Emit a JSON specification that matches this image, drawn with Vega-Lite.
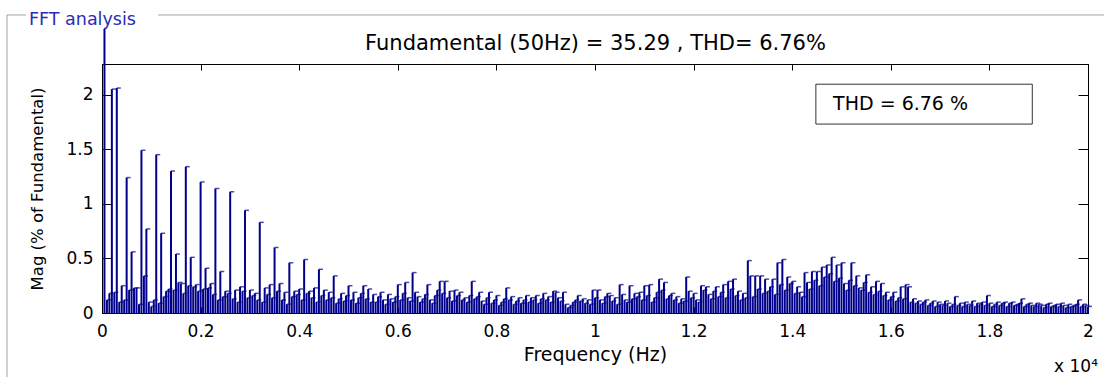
{
  "$schema": "https://vega.github.io/schema/vega-lite/v6.json",
  "width": 986,
  "height": 249,
  "autosize": {"type": "none"},
  "padding": {"left": 102, "top": 64, "right": 16, "bottom": 64},
  "background": "white",
  "title": {"text": "FFT analysis", "anchor": "start", "frame": "group", "dx": -73, "dy": 18, "fontSize": 17.5, "font": "DejaVu Sans", "fontWeight": "normal", "color": "#2b2bb5", "offset": 4},
  "config": {
    "font": "DejaVu Sans",
    "view": {"stroke": "black", "strokeWidth": 1},
    "axis": {"grid": false, "domainColor": "black", "tickColor": "black", "labelColor": "black", "titleColor": "black", "titleFontWeight": "normal", "labelFont": "DejaVu Sans", "titleFont": "DejaVu Sans"}
  },
  "datasets": {
    "spectrum": [
      {"f":50,"m":100},{"f":100,"m":0.12},{"f":150,"m":0.18},{"f":200,"m":2.05},{"f":250,"m":0.19},{"f":300,"m":2.06},{"f":350,"m":0.10},{"f":400,"m":0.25},{"f":450,"m":0.12},{"f":500,"m":1.24},
      {"f":550,"m":0.21},{"f":600,"m":0.56},{"f":650,"m":0.23},{"f":700,"m":0.23},{"f":750,"m":0.08},{"f":800,"m":1.49},{"f":850,"m":0.34},{"f":900,"m":0.77},{"f":950,"m":0.10},{"f":1000,"m":0.06},
      {"f":1050,"m":0.12},{"f":1100,"m":1.45},{"f":1150,"m":0.09},{"f":1200,"m":0.73},{"f":1250,"m":0.15},{"f":1300,"m":0.20},{"f":1350,"m":0.22},{"f":1400,"m":1.30},{"f":1450,"m":0.21},{"f":1500,"m":0.54},
      {"f":1550,"m":0.28},{"f":1600,"m":0.27},{"f":1650,"m":0.18},{"f":1700,"m":1.34},{"f":1750,"m":0.25},{"f":1800,"m":0.51},{"f":1850,"m":0.24},{"f":1900,"m":0.26},{"f":1950,"m":0.20},{"f":2000,"m":1.20},
      {"f":2050,"m":0.22},{"f":2100,"m":0.41},{"f":2150,"m":0.23},{"f":2200,"m":0.27},{"f":2250,"m":0.17},{"f":2300,"m":1.14},{"f":2350,"m":0.12},{"f":2400,"m":0.38},{"f":2450,"m":0.15},{"f":2500,"m":0.20},
      {"f":2550,"m":0.18},{"f":2600,"m":1.11},{"f":2650,"m":0.13},{"f":2700,"m":0.21},{"f":2750,"m":0.10},{"f":2800,"m":0.24},{"f":2850,"m":0.20},{"f":2900,"m":0.94},{"f":2950,"m":0.14},{"f":3000,"m":0.21},
      {"f":3050,"m":0.16},{"f":3100,"m":0.18},{"f":3150,"m":0.12},{"f":3200,"m":0.83},{"f":3250,"m":0.10},{"f":3300,"m":0.23},{"f":3350,"m":0.17},{"f":3400,"m":0.26},{"f":3450,"m":0.14},{"f":3500,"m":0.60},
      {"f":3550,"m":0.20},{"f":3600,"m":0.27},{"f":3650,"m":0.12},{"f":3700,"m":0.19},{"f":3750,"m":0.08},{"f":3800,"m":0.46},{"f":3850,"m":0.15},{"f":3900,"m":0.20},{"f":3950,"m":0.17},{"f":4000,"m":0.22},
      {"f":4050,"m":0.12},{"f":4100,"m":0.49},{"f":4150,"m":0.18},{"f":4200,"m":0.20},{"f":4250,"m":0.14},{"f":4300,"m":0.23},{"f":4350,"m":0.10},{"f":4400,"m":0.40},{"f":4450,"m":0.16},{"f":4500,"m":0.21},
      {"f":4550,"m":0.12},{"f":4600,"m":0.19},{"f":4650,"m":0.14},{"f":4700,"m":0.34},{"f":4750,"m":0.09},{"f":4800,"m":0.13},{"f":4850,"m":0.18},{"f":4900,"m":0.11},{"f":4950,"m":0.16},{"f":5000,"m":0.25},
      {"f":5050,"m":0.12},{"f":5100,"m":0.19},{"f":5150,"m":0.09},{"f":5200,"m":0.14},{"f":5250,"m":0.18},{"f":5300,"m":0.25},{"f":5350,"m":0.13},{"f":5400,"m":0.22},{"f":5450,"m":0.10},{"f":5500,"m":0.17},
      {"f":5550,"m":0.10},{"f":5600,"m":0.15},{"f":5650,"m":0.19},{"f":5700,"m":0.12},{"f":5750,"m":0.08},{"f":5800,"m":0.17},{"f":5850,"m":0.13},{"f":5900,"m":0.10},{"f":5950,"m":0.15},{"f":6000,"m":0.26},
      {"f":6050,"m":0.12},{"f":6100,"m":0.18},{"f":6150,"m":0.28},{"f":6200,"m":0.14},{"f":6250,"m":0.11},{"f":6300,"m":0.37},{"f":6350,"m":0.19},{"f":6400,"m":0.15},{"f":6450,"m":0.10},{"f":6500,"m":0.13},
      {"f":6550,"m":0.17},{"f":6600,"m":0.26},{"f":6650,"m":0.12},{"f":6700,"m":0.09},{"f":6750,"m":0.16},{"f":6800,"m":0.21},{"f":6850,"m":0.29},{"f":6900,"m":0.18},{"f":6950,"m":0.29},{"f":7000,"m":0.14},
      {"f":7050,"m":0.20},{"f":7100,"m":0.11},{"f":7150,"m":0.21},{"f":7200,"m":0.16},{"f":7250,"m":0.19},{"f":7300,"m":0.12},{"f":7350,"m":0.14},{"f":7400,"m":0.10},{"f":7450,"m":0.16},{"f":7500,"m":0.29},
      {"f":7550,"m":0.13},{"f":7600,"m":0.15},{"f":7650,"m":0.19},{"f":7700,"m":0.11},{"f":7750,"m":0.08},{"f":7800,"m":0.14},{"f":7850,"m":0.19},{"f":7900,"m":0.09},{"f":7950,"m":0.12},{"f":8000,"m":0.16},
      {"f":8050,"m":0.07},{"f":8100,"m":0.10},{"f":8150,"m":0.13},{"f":8200,"m":0.23},{"f":8250,"m":0.12},{"f":8300,"m":0.15},{"f":8350,"m":0.08},{"f":8400,"m":0.11},{"f":8450,"m":0.14},{"f":8500,"m":0.09},
      {"f":8550,"m":0.12},{"f":8600,"m":0.16},{"f":8650,"m":0.10},{"f":8700,"m":0.14},{"f":8750,"m":0.12},{"f":8800,"m":0.16},{"f":8850,"m":0.09},{"f":8900,"m":0.13},{"f":8950,"m":0.18},{"f":9000,"m":0.12},
      {"f":9050,"m":0.15},{"f":9100,"m":0.10},{"f":9150,"m":0.20},{"f":9200,"m":0.19},{"f":9250,"m":0.14},{"f":9300,"m":0.11},{"f":9350,"m":0.19},{"f":9400,"m":0.08},{"f":9450,"m":0.05},{"f":9500,"m":0.07},
      {"f":9550,"m":0.10},{"f":9600,"m":0.12},{"f":9650,"m":0.16},{"f":9700,"m":0.11},{"f":9750,"m":0.13},{"f":9800,"m":0.09},{"f":9850,"m":0.12},{"f":9900,"m":0.08},{"f":9950,"m":0.21},{"f":10000,"m":0.14},
      {"f":10050,"m":0.21},{"f":10100,"m":0.12},{"f":10150,"m":0.09},{"f":10200,"m":0.15},{"f":10250,"m":0.18},{"f":10300,"m":0.16},{"f":10350,"m":0.11},{"f":10400,"m":0.14},{"f":10450,"m":0.08},{"f":10500,"m":0.26},
      {"f":10550,"m":0.17},{"f":10600,"m":0.12},{"f":10650,"m":0.10},{"f":10700,"m":0.25},{"f":10750,"m":0.13},{"f":10800,"m":0.18},{"f":10850,"m":0.15},{"f":10900,"m":0.19},{"f":10950,"m":0.12},{"f":11000,"m":0.25},
      {"f":11050,"m":0.16},{"f":11100,"m":0.26},{"f":11150,"m":0.10},{"f":11200,"m":0.14},{"f":11250,"m":0.19},{"f":11300,"m":0.31},{"f":11350,"m":0.21},{"f":11400,"m":0.28},{"f":11450,"m":0.13},{"f":11500,"m":0.16},
      {"f":11550,"m":0.18},{"f":11600,"m":0.12},{"f":11650,"m":0.15},{"f":11700,"m":0.09},{"f":11750,"m":0.13},{"f":11800,"m":0.11},{"f":11850,"m":0.33},{"f":11900,"m":0.20},{"f":11950,"m":0.14},{"f":12000,"m":0.18},
      {"f":12050,"m":0.12},{"f":12100,"m":0.10},{"f":12150,"m":0.25},{"f":12200,"m":0.21},{"f":12250,"m":0.24},{"f":12300,"m":0.17},{"f":12350,"m":0.13},{"f":12400,"m":0.20},{"f":12450,"m":0.24},{"f":12500,"m":0.15},
      {"f":12550,"m":0.19},{"f":12600,"m":0.26},{"f":12650,"m":0.14},{"f":12700,"m":0.29},{"f":12750,"m":0.22},{"f":12800,"m":0.31},{"f":12850,"m":0.16},{"f":12900,"m":0.20},{"f":12950,"m":0.12},{"f":13000,"m":0.18},
      {"f":13050,"m":0.14},{"f":13100,"m":0.48},{"f":13150,"m":0.34},{"f":13200,"m":0.15},{"f":13250,"m":0.34},{"f":13300,"m":0.22},{"f":13350,"m":0.34},{"f":13400,"m":0.18},{"f":13450,"m":0.31},{"f":13500,"m":0.20},
      {"f":13550,"m":0.24},{"f":13600,"m":0.31},{"f":13650,"m":0.17},{"f":13700,"m":0.46},{"f":13750,"m":0.26},{"f":13800,"m":0.49},{"f":13850,"m":0.21},{"f":13900,"m":0.33},{"f":13950,"m":0.27},{"f":14000,"m":0.29},
      {"f":14050,"m":0.18},{"f":14100,"m":0.24},{"f":14150,"m":0.19},{"f":14200,"m":0.15},{"f":14250,"m":0.37},{"f":14300,"m":0.28},{"f":14350,"m":0.22},{"f":14400,"m":0.38},{"f":14450,"m":0.30},{"f":14500,"m":0.38},
      {"f":14550,"m":0.25},{"f":14600,"m":0.42},{"f":14650,"m":0.33},{"f":14700,"m":0.44},{"f":14750,"m":0.36},{"f":14800,"m":0.51},{"f":14850,"m":0.29},{"f":14900,"m":0.44},{"f":14950,"m":0.32},{"f":15000,"m":0.46},
      {"f":15050,"m":0.27},{"f":15100,"m":0.21},{"f":15150,"m":0.30},{"f":15200,"m":0.46},{"f":15250,"m":0.25},{"f":15300,"m":0.34},{"f":15350,"m":0.23},{"f":15400,"m":0.21},{"f":15450,"m":0.28},{"f":15500,"m":0.35},
      {"f":15550,"m":0.19},{"f":15600,"m":0.24},{"f":15650,"m":0.17},{"f":15700,"m":0.29},{"f":15750,"m":0.20},{"f":15800,"m":0.27},{"f":15850,"m":0.16},{"f":15900,"m":0.19},{"f":15950,"m":0.12},{"f":16000,"m":0.15},
      {"f":16050,"m":0.19},{"f":16100,"m":0.11},{"f":16150,"m":0.14},{"f":16200,"m":0.24},{"f":16250,"m":0.13},{"f":16300,"m":0.26},{"f":16350,"m":0.24},{"f":16400,"m":0.10},{"f":16450,"m":0.13},{"f":16500,"m":0.09},
      {"f":16550,"m":0.11},{"f":16600,"m":0.08},{"f":16650,"m":0.10},{"f":16700,"m":0.12},{"f":16750,"m":0.07},{"f":16800,"m":0.09},{"f":16850,"m":0.11},{"f":16900,"m":0.06},{"f":16950,"m":0.10},{"f":17000,"m":0.08},
      {"f":17050,"m":0.07},{"f":17100,"m":0.11},{"f":17150,"m":0.09},{"f":17200,"m":0.06},{"f":17250,"m":0.08},{"f":17300,"m":0.15},{"f":17350,"m":0.07},{"f":17400,"m":0.09},{"f":17450,"m":0.06},{"f":17500,"m":0.10},
      {"f":17550,"m":0.08},{"f":17600,"m":0.07},{"f":17650,"m":0.11},{"f":17700,"m":0.06},{"f":17750,"m":0.09},{"f":17800,"m":0.08},{"f":17850,"m":0.10},{"f":17900,"m":0.07},{"f":17950,"m":0.16},{"f":18000,"m":0.09},
      {"f":18050,"m":0.06},{"f":18100,"m":0.08},{"f":18150,"m":0.10},{"f":18200,"m":0.07},{"f":18250,"m":0.09},{"f":18300,"m":0.10},{"f":18350,"m":0.06},{"f":18400,"m":0.09},{"f":18450,"m":0.10},{"f":18500,"m":0.07},
      {"f":18550,"m":0.08},{"f":18600,"m":0.09},{"f":18650,"m":0.13},{"f":18700,"m":0.06},{"f":18750,"m":0.08},{"f":18800,"m":0.09},{"f":18850,"m":0.07},{"f":18900,"m":0.06},{"f":18950,"m":0.09},{"f":19000,"m":0.08},
      {"f":19050,"m":0.07},{"f":19100,"m":0.05},{"f":19150,"m":0.08},{"f":19200,"m":0.09},{"f":19250,"m":0.06},{"f":19300,"m":0.07},{"f":19350,"m":0.08},{"f":19400,"m":0.06},{"f":19450,"m":0.09},{"f":19500,"m":0.07},
      {"f":19550,"m":0.05},{"f":19600,"m":0.08},{"f":19650,"m":0.06},{"f":19700,"m":0.07},{"f":19750,"m":0.08},{"f":19800,"m":0.12},{"f":19850,"m":0.06},{"f":19900,"m":0.08},{"f":19950,"m":0.07},{"f":20000,"m":0.06}
    ]
  },
  "data": {"name": "spectrum"},
  "layer": [
    {
      "transform": [{"filter": "datum.m < 50"}],
      "mark": {"type": "rule", "color": "#00008b", "strokeWidth": 2},
      "encoding": {
        "x": {"field": "f", "type": "quantitative", "scale": {"domain": [0, 20000], "nice": false},
          "axis": {"orient": "bottom", "values": [0,2000,4000,6000,8000,10000,12000,14000,16000,18000,20000], "labelExpr": "'' + round(datum.value/1000)/10", "labelFontSize": 17, "tickSize": -6, "labelPadding": 16, "labelFlush": false, "title": "Frequency (Hz)", "titleFontSize": 19, "titlePadding": 6}},
        "y": {"field": "m", "type": "quantitative", "scale": {"domain": [0, 2.28], "nice": false},
          "axis": {"orient": "left", "values": [0,0.5,1,1.5,2], "labelExpr": "'' + datum.value", "labelFontSize": 17, "tickSize": -9, "labelPadding": 18, "title": "Mag (% of Fundamental)", "titleFontSize": 16.5, "titlePadding": 20}},
        "y2": {"datum": 0}
      }
    },
    {
      "transform": [{"filter": "datum.m < 50"}],
      "mark": {"type": "tick", "orient": "horizontal", "color": "#00008b", "size": 4, "thickness": 1.5, "xOffset": 2},
      "encoding": {
        "x": {"field": "f", "type": "quantitative",
          "axis": {"orient": "top", "values": [0,2000,4000,6000,8000,10000,12000,14000,16000,18000,20000], "labels": false, "tickSize": -6, "title": "Fundamental (50Hz) = 35.29 , THD= 6.76%", "titleFontSize": 21, "titlePadding": 10}},
        "y": {"field": "m", "type": "quantitative",
          "axis": {"orient": "right", "values": [0,0.5,1,1.5,2], "labels": false, "tickSize": -10, "title": null}}
      }
    },
    {
      "transform": [{"filter": "datum.m >= 50"}],
      "mark": {"type": "rule", "color": "#00008b", "strokeWidth": 2, "clip": false},
      "encoding": {
        "x": {"field": "f", "type": "quantitative", "axis": null},
        "y": {"datum": 0, "axis": null},
        "y2": {"datum": 2.6}
      }
    },
    {
      "data": {"values": [{}]},
      "mark": {"type": "rect", "fill": "white", "stroke": "#333333", "strokeWidth": 1},
      "encoding": {
        "x": {"datum": 14480, "axis": null},
        "x2": {"datum": 18870},
        "y": {"datum": 1.73, "axis": null},
        "y2": {"datum": 2.095}
      }
    },
    {
      "data": {"values": [{}]},
      "mark": {"type": "text", "text": "THD = 6.76 %", "align": "left", "baseline": "middle", "fontSize": 19, "font": "DejaVu Sans", "color": "black"},
      "encoding": {
        "x": {"datum": 14830, "axis": null},
        "y": {"datum": 1.91, "axis": null}
      }
    },
    {
      "data": {"values": [{}]},
      "mark": {"type": "text", "text": "x 10⁴", "align": "center", "baseline": "alphabetic", "fontSize": 17, "font": "DejaVu Sans", "color": "black", "dx": -12, "dy": 59, "clip": false},
      "encoding": {
        "x": {"datum": 20000, "axis": null},
        "y": {"datum": 0, "axis": null}
      }
    },
    {
      "data": {"values": [{}]},
      "mark": {"type": "rule", "color": "#a0a0a0", "strokeWidth": 1, "clip": false},
      "encoding": {
        "x": {"datum": -1927, "axis": null},
        "y": {"datum": 2.729, "axis": null},
        "y2": {"datum": -0.7}
      }
    },
    {
      "data": {"values": [{}]},
      "mark": {"type": "rule", "color": "#a0a0a0", "strokeWidth": 1, "clip": false},
      "encoding": {
        "x": {"datum": -1927, "axis": null},
        "x2": {"datum": -1540},
        "y": {"datum": 2.729, "axis": null}
      }
    },
    {
      "data": {"values": [{}]},
      "mark": {"type": "rule", "color": "#a0a0a0", "strokeWidth": 1, "clip": false},
      "encoding": {
        "x": {"datum": 1140, "axis": null},
        "x2": {"datum": 20400},
        "y": {"datum": 2.729, "axis": null}
      }
    }
  ],
  "resolve": {"axis": {"x": "independent", "y": "independent"}}
}
